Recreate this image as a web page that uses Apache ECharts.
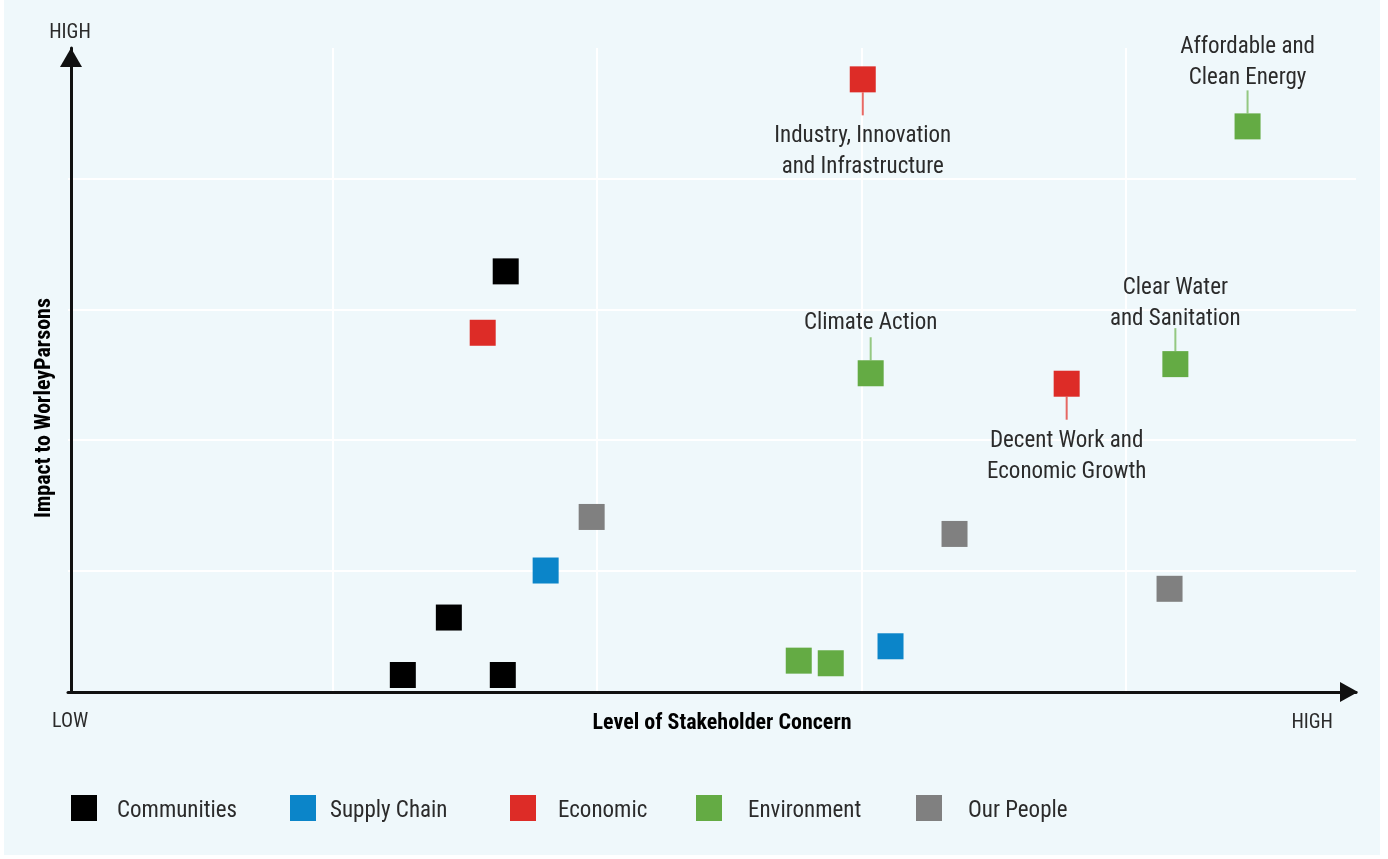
<!DOCTYPE html>
<html>
<head>
<meta charset="utf-8">
<title>Materiality Matrix</title>
<script src="https://cdn.jsdelivr.net/npm/echarts@6/dist/echarts.min.js"></script>
<style>
  html, body { margin: 0; padding: 0; background: #ffffff; }
  #panel { position: absolute; left: 4px; top: 0; width: 1376px; height: 855px; background: #eff8fb; }
  #chart { position: absolute; left: 0; top: 0; width: 1388px; height: 859px; }
</style>
</head>
<body>
<div id="panel"></div>
<div id="chart"></div>
<script>
// Level of stakeholder concern (x) and impact to WorleyParsons (y), relative units
const categories = ['Communities', 'Supply Chain', 'Economic', 'Environment', 'Our People'];

const communities = [[1.655, 3.29], [1.44, 0.64], [1.266, 0.20], [1.644, 0.20]];
const supplyChain = [[1.806, 1.00], [3.11, 0.42]];
const economic = [[3.005, 4.76], [1.568, 2.82], [3.776, 2.43]];
const environment = [[4.46, 4.40], [3.035, 2.51], [4.187, 2.58], [2.763, 0.31], [2.884, 0.29]];
const ourPeople = [[1.98, 1.41], [3.352, 1.28], [4.165, 0.86]];

// Sustainable development goals tied to individual points ('' = no callout)
const economicGoals = ['Industry, Innovation\nand Infrastructure', '', 'Decent Work and\nEconomic Growth'];
const environmentGoals = ['Affordable and\nClean Energy', 'Climate Action', 'Clear Water\nand Sanitation', '', ''];

const axisEndLabels = ['LOW', 'HIGH'];
const xAxisTitle = 'Level of Stakeholder Concern';
const yAxisTitle = 'Impact to WorleyParsons';

// ---- styling ----
const FONT = "'Liberation Sans Narrow', 'Roboto Condensed', 'DejaVu Sans Condensed', Roboto, sans-serif";
const TEXT = '#2b2b2b';
const palette = {
  'Communities': '#000000',
  'Supply Chain': '#0b85c9',
  'Economic': '#dd2c27',
  'Environment': '#64ab44',
  'Our People': '#808080'
};
const connectorColor = { 'Economic': '#e4433d', 'Environment': '#7dbb63' };
const legendLeft = [71, 290, 510, 696, 916];
const legendTextIndent = [15, 9, 17, 21, 21];

// callout placement: side of the marker and gap between marker edge and text box
const calloutPlacement = {
  'Industry, Innovation\nand Infrastructure': { side: 'bottom', gap: 28 },
  'Decent Work and\nEconomic Growth': { side: 'bottom', gap: 29 },
  'Affordable and\nClean Energy': { side: 'top', gap: 20 },
  'Climate Action': { side: 'top', gap: 22 },
  'Clear Water\nand Sanitation': { side: 'top', gap: 16 }
};

function pointItems(points, goals) {
  return points.map(function (p, i) {
    const text = goals ? goals[i] : '';
    if (!text) return { value: p };
    const place = calloutPlacement[text];
    return {
      value: p,
      name: text,
      label: {
        show: true,
        position: place.side,
        distance: place.gap,
        formatter: text,
        fontFamily: FONT,
        fontSize: 23,
        lineHeight: 31,
        color: TEXT,
        align: 'center'
      }
    };
  });
}

function connectorItems(points, goals) {
  const out = [];
  points.forEach(function (p, i) {
    const text = goals[i];
    if (!text) return;
    const place = calloutPlacement[text];
    out.push({ value: p, symbolOffset: [0, place.side === 'bottom' ? 24.5 : -24.5] });
  });
  return out;
}

const seriesPoints = {
  'Communities': [communities, null],
  'Supply Chain': [supplyChain, null],
  'Economic': [economic, economicGoals],
  'Environment': [environment, environmentGoals],
  'Our People': [ourPeople, null]
};

const series = [];
['Economic', 'Environment'].forEach(function (name) {
  series.push({
    type: 'scatter',
    name: name + ' connector',
    silent: true,
    symbol: 'rect',
    symbolSize: [2, 23],
    itemStyle: { color: connectorColor[name] },
    z: 1,
    data: connectorItems(seriesPoints[name][0], seriesPoints[name][1])
  });
});
categories.forEach(function (name) {
  series.push({
    type: 'scatter',
    name: name,
    symbol: 'rect',
    symbolSize: 26,
    itemStyle: { color: palette[name], opacity: 1 },
    z: 3,
    data: pointItems(seriesPoints[name][0], seriesPoints[name][1])
  });
});

const legends = categories.map(function (name, i) {
  return {
    data: [name],
    left: legendLeft[i],
    top: 795,
    padding: 0,
    icon: 'rect',
    itemWidth: 26,
    itemHeight: 26,
    selectedMode: false,
    formatter: '{t|{name}}',
    textStyle: {
      fontFamily: FONT, fontSize: 23, color: TEXT,
      rich: { t: { fontFamily: FONT, fontSize: 23, color: TEXT, padding: [7, 0, 0, legendTextIndent[i]] } }
    }
  };
});

const chart = echarts.init(document.getElementById('chart'), null, { renderer: 'canvas' });
chart.setOption({
  animation: false,
  backgroundColor: 'transparent',
  grid: { left: 68, right: 32, top: 48, bottom: 167, containLabel: false },
  xAxis: {
    type: 'value',
    min: 0,
    max: 4.87,
    interval: 1,
    axisLabel: { show: false },
    axisTick: { show: false },
    axisLine: {
      show: true,
      onZero: false,
      lineStyle: { color: '#111111', width: 3 },
      symbol: ['none', 'triangle'],
      symbolSize: [20, 18],
      symbolOffset: [0, -7]
    },
    splitLine: { show: true, showMinLine: false, showMaxLine: false, lineStyle: { color: '#ffffff', width: 2 } }
  },
  yAxis: {
    type: 'value',
    min: 0.07,
    max: 5,
    splitNumber: 5,
    offset: -3,
    axisLabel: { show: false },
    axisTick: { show: false },
    axisLine: {
      show: true,
      onZero: false,
      lineStyle: { color: '#111111', width: 3 },
      symbol: ['none', 'triangle'],
      symbolSize: [22, 19],
      symbolOffset: [0, -9.5]
    },
    splitLine: { show: true, showMinLine: false, showMaxLine: false, lineStyle: { color: '#ffffff', width: 2 } }
  },
  legend: legends,
  graphic: [
    { type: 'text', x: 70, y: 33, style: { text: axisEndLabels[1], align: 'center', verticalAlign: 'middle', font: '20px ' + FONT, fill: TEXT } },
    { type: 'text', x: 52, y: 722, style: { text: axisEndLabels[0], align: 'left', verticalAlign: 'middle', font: '20px ' + FONT, fill: TEXT } },
    { type: 'text', x: 1333, y: 723, style: { text: axisEndLabels[1], align: 'right', verticalAlign: 'middle', font: '20px ' + FONT, fill: TEXT } },
    { type: 'text', x: 722, y: 723, style: { text: xAxisTitle, align: 'center', verticalAlign: 'middle', font: 'bold 22px ' + FONT, fill: '#000000' } },
    { type: 'text', x: 44, y: 408, rotation: Math.PI / 2, style: { text: yAxisTitle, align: 'center', verticalAlign: 'middle', font: 'bold 22px ' + FONT, fill: '#000000' } }
  ],
  series: series
});
</script>
</body>
</html>
